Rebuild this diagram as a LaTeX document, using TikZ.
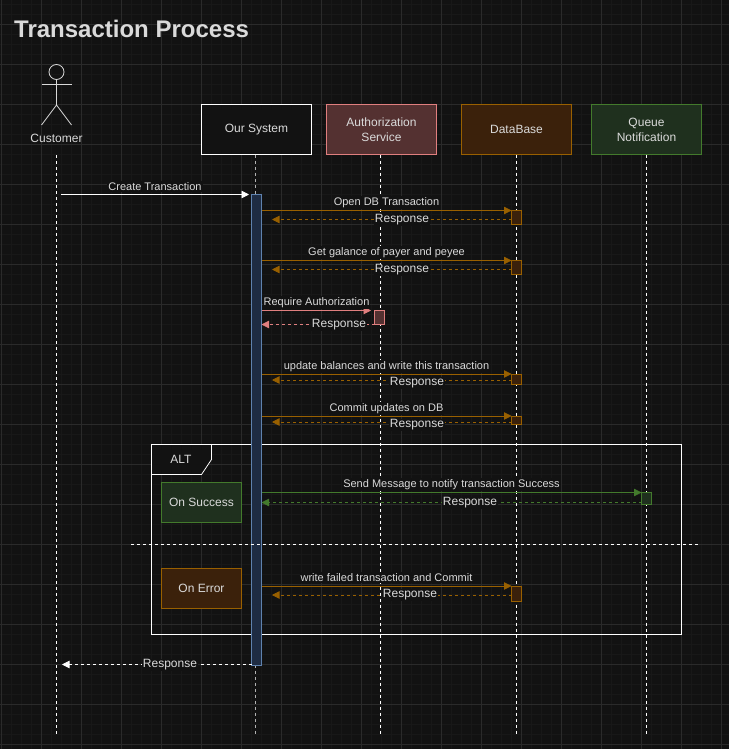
\documentclass[tikz,border=0pt]{standalone}
\usepackage{fontspec}
\setmainfont{Liberation Sans}
\usetikzlibrary{arrows.meta}

\definecolor{pagebg}{HTML}{121212}
\definecolor{gridbig}{HTML}{2A2A2A}
\definecolor{gridfine}{HTML}{181818}
\definecolor{inktext}{HTML}{DADADA}
\definecolor{orangeline}{HTML}{996000}
\definecolor{orangefill}{HTML}{3B210B}
\definecolor{redline}{HTML}{E07F7F}
\definecolor{redfill}{HTML}{543131}
\definecolor{greenline}{HTML}{437A2C}
\definecolor{greenfill}{HTML}{1F301E}
\definecolor{blueline}{HTML}{5F82AE}
\definecolor{bluefill}{HTML}{1E2C43}

\tikzset{
  headbox/.style={draw, line width=.8pt, minimum width=110pt, minimum height=50pt,
    inner sep=0pt, outer sep=0pt, text=inktext, align=center, font=\fontsize{12}{15}\selectfont},
  sidebox/.style={headbox, minimum width=80pt, minimum height=40pt},
  barbox/.style={draw, line width=.8pt, minimum width=10pt, inner sep=0pt, outer sep=0pt},
  lifeline/.style={white, line width=.8pt, dash pattern=on 3pt off 3pt},
  msg/.style={line width=.8pt, -{Triangle[length=7.5pt,width=7.5pt]}},
  reply/.style={line width=.8pt, dash pattern=on 3pt off 3pt, -{Triangle[length=7.5pt,width=7.5pt]}},
  msgtext/.style={fill=pagebg, text=inktext, inner sep=1pt, yshift=-1.5pt, font=\fontsize{11}{13}\selectfont},
  replytext/.style={fill=pagebg, text=inktext, inner sep=1pt, yshift=-2pt, font=\fontsize{12}{14}\selectfont},
}

\begin{document}
\begin{tikzpicture}[x=1pt, y=-1pt]
  \useasboundingbox (0,0) rectangle (728,749);
  \fill [color=pagebg] (-3,-3) rectangle (732,753);

  \begin{scope}
    \draw [gridfine, line width=.6pt, shift={(1,4)}, step=10pt] (-10,-10) grid (730,750);
    \draw [gridbig, line width=.8pt, shift={(1,24)}, step=40pt] (-40,-40) grid (760,760);
  \end{scope}

  \node [text=inktext, font=\bfseries\fontsize{24}{30}\selectfont, anchor=west, inner sep=0pt] (title) at (14,29) {Transaction Process};

  % customer
  \node [circle, draw=white!85!black, line width=.8pt, minimum size=15pt, inner sep=0pt, outer sep=0pt] (head) at (56.5,72) {};
  \coordinate (hip) at (56.5,105);
  \draw [white!85!black, line width=.8pt] (head.south) -- (hip);
  \draw [white!85!black, line width=.8pt] (41.5,84.5) -- (71.5,84.5);
  \draw [white!85!black, line width=.8pt] (41.5,125) -- (hip) -- (71.5,125);
  \node [text=inktext, font=\fontsize{12}{15}\selectfont, inner sep=0pt] (customer) at (56.5,138) {Customer};

  % heads
  \node [headbox, draw=white, fill=pagebg] (system) at (256.5,129.5) {Our System};
  \node [headbox, draw=redline, fill=redfill] (auth) at (381.5,129.5) {Authorization\\Service};
  \node [headbox, draw=orangeline, fill=orangefill] (db) at (516.5,129.5) {DataBase};
  \node [headbox, draw=greenline, fill=greenfill] (queue) at (646.5,129.5) {Queue\\Notification};

  % lifelines
  \coordinate (customerEnd) at (56.5,735);
  \coordinate (systemEnd) at (255.5,735);
  \coordinate (authEnd) at (380.5,735);
  \coordinate (dbEnd) at (516.5,735);
  \coordinate (queueEnd) at (646.5,735);
  \draw [lifeline] (56.5,155) -- (customerEnd);
  \draw [lifeline, white!70!black] (system.south -| systemEnd) -- (systemEnd);
  \draw [lifeline] (auth.south -| authEnd) -- (authEnd);
  \draw [lifeline] (db.south) -- (dbEnd);
  \draw [lifeline] (queue.south) -- (queueEnd);

  % alt frame
  \node [draw=white, line width=.8pt, minimum width=530pt, minimum height=190pt, inner sep=0pt, outer sep=0pt] (frame) at (416.5,539.5) {};
  \draw [white, fill=pagebg, line width=.8pt] (frame.north west) -- (211.5,444.5) -- (211.5,459.5) -- (201.5,474.5) -- (151.5,474.5) -- cycle;
  \node [text=inktext, font=\fontsize{12}{15}\selectfont, inner sep=0pt] (alt) at (181,459) {ALT};
  \node [sidebox, draw=greenline, fill=greenfill] (success) at (201.5,502.5) {On Success};
  \node [sidebox, draw=orangeline, fill=orangefill] (failure) at (201.5,588.5) {On Error};

  % activation bars
  \node [barbox, draw=blueline, fill=bluefill, minimum height=471pt] (systemBar) at (256.5,430) {};
  \node [barbox, draw=orangeline, fill=orangefill, minimum height=14pt] (dbA) at (516.5,217.5) {};
  \node [barbox, draw=orangeline, fill=orangefill, minimum height=14pt] (dbB) at (516.5,267.5) {};
  \node [barbox, draw=redline, fill=redfill, minimum height=14pt] (authA) at (379.5,317.5) {};
  \node [barbox, draw=orangeline, fill=orangefill, minimum height=10pt] (dbC) at (516.5,379) {};
  \node [barbox, draw=orangeline, fill=orangefill, minimum height=8pt] (dbD) at (516.5,420) {};
  \node [barbox, draw=greenline, fill=greenfill, minimum height=12pt] (queueA) at (646.5,498.5) {};
  \node [barbox, draw=orangeline, fill=orangefill, minimum height=15pt] (dbE) at (516.5,593.5) {};

  \draw [white, line width=.8pt, dash pattern=on 3pt off 3pt] (131,544.5) -- (699,544.5);

  % create transaction
  \coordinate (createStart) at (61,194.5);
  \coordinate (createEnd) at (249,194.5);
  \draw [msg, white] (createStart) -- (createEnd);
  \node [msgtext] (createText) at (155,185) {Create Transaction};

  % open db
  \coordinate (replyA) at (272,219.5);
  \draw [msg, orangeline] (systemBar.east |- dbA.north) -- (dbA.north west);
  \draw [reply, orangeline] (dbA.west |- replyA) -- (replyA);
  \node [msgtext] (openText) at (386.5,201) {Open DB Transaction};
  \node [replytext] (replyTextA) at (402,218) {Response};

  % payer and payee
  \coordinate (replyB) at (272,269.5);
  \draw [msg, orangeline] (systemBar.east |- dbB.north) -- (dbB.north west);
  \draw [reply, orangeline] (dbB.west |- replyB) -- (replyB);
  \node [msgtext] (galanceText) at (386.5,251) {Get galance of payer and peyee};
  \node [replytext] (replyTextB) at (402,268) {Response};

  % authorization
  \coordinate (authTip) at (371,310.5);
  \coordinate (replyC) at (261.5,324.5);
  \draw [msg, redline] (systemBar.east |- authTip) -- (authTip);
  \draw [reply, redline] (authA.south west) -- (replyC);
  \node [msgtext] (requireText) at (316.5,301) {Require Authorization};
  \node [replytext] (replyTextC) at (339,323) {Response};

  % update balances
  \coordinate (replyD) at (272,380);
  \draw [msg, orangeline] (systemBar.east |- dbC.north) -- (dbC.north west);
  \draw [reply, orangeline] (dbC.west |- replyD) -- (replyD);
  \node [msgtext] (updateText) at (386.5,365) {update balances and write this transaction};
  \node [replytext] (replyTextD) at (417,381) {Response};

  % commit
  \coordinate (replyE) at (272,422);
  \draw [msg, orangeline] (systemBar.east |- dbD.north) -- (dbD.north west);
  \draw [reply, orangeline] (dbD.west |- replyE) -- (replyE);
  \node [msgtext] (commitText) at (386.5,407) {Commit updates on DB};
  \node [replytext] (replyTextE) at (417,423) {Response};

  % on success
  \coordinate (replyF) at (261.5,502.5);
  \draw [msg, greenline] (systemBar.east |- queueA.north) -- (queueA.north west);
  \draw [reply, greenline] (queueA.west |- replyF) -- (replyF);
  \node [msgtext] (sendText) at (451.5,483) {Send Message to notify transaction Success};
  \node [replytext] (replyTextF) at (470,501) {Response};

  % on error
  \coordinate (replyG) at (272,595);
  \draw [msg, orangeline] (systemBar.east |- dbE.north) -- (dbE.north west);
  \draw [reply, orangeline] (dbE.west |- replyG) -- (replyG);
  \node [msgtext] (writeText) at (386.5,576) {write failed transaction and Commit};
  \node [replytext] (replyTextG) at (410,593) {Response};

  % back to customer
  \coordinate (replyH) at (62,664.5);
  \draw [reply, white] (systemBar.west |- replyH) -- (replyH);
  \node [replytext] (replyTextH) at (170,663) {Response};
\end{tikzpicture}
\end{document}
